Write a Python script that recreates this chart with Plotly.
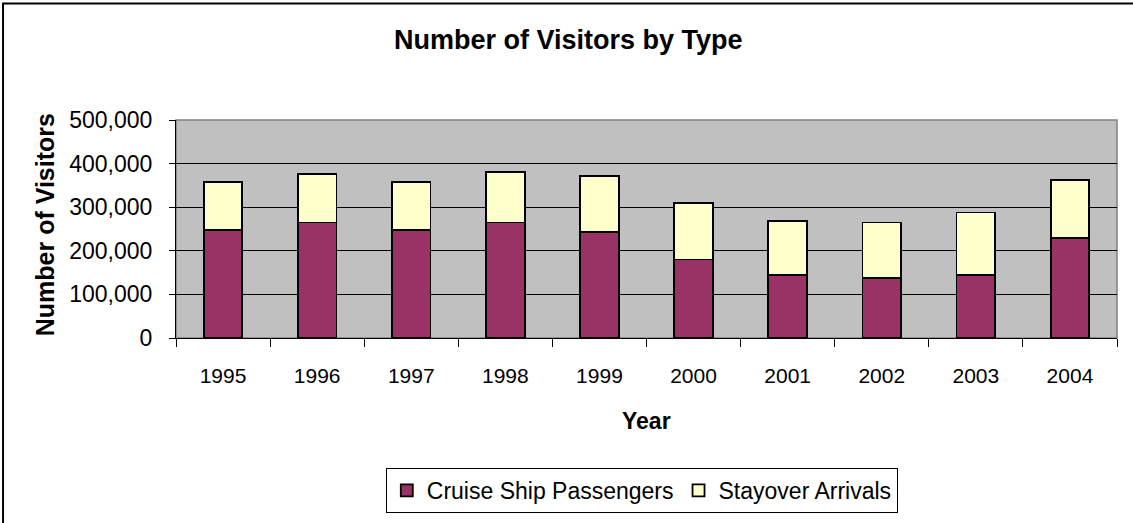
import plotly.graph_objects as go

years = ["1995", "1996", "1997", "1998", "1999", "2000", "2001", "2002", "2003", "2004"]
cruise = [247000, 265000, 247000, 265000, 243000, 180000, 145000, 137000, 145000, 230000]
stayover = [111000, 111000, 111000, 116000, 128000, 129000, 124000, 128000, 143000, 132000]

FONT = "Liberation Sans, Arial, sans-serif"

fig = go.Figure(
    data=[
        go.Bar(x=years, y=cruise, name="Cruise Ship Passengers", width=0.41,
               marker=dict(color="#993366", line=dict(color="black", width=1.8))),
        go.Bar(x=years, y=stayover, name="Stayover Arrivals", width=0.41,
               marker=dict(color="#FFFFCC", line=dict(color="black", width=1.8))),
    ],
    layout=go.Layout(
        barmode="stack",
        width=1133, height=523,
        margin=dict(l=176, r=16, t=120, b=184),
        paper_bgcolor="white",
        plot_bgcolor="#C0C0C0",
        font=dict(family=FONT, size=21, color="black"),
        xaxis=dict(
            type="category", showline=True, linecolor="black", linewidth=1,
            ticks="outside", tickson="boundaries", ticklen=8, tickcolor="black",
            ticklabelstandoff=19, tickfont=dict(size=21), showgrid=False,
        ),
        yaxis=dict(
            range=[0, 500000], autorange=False, dtick=100000, tickformat=",d",
            showline=True, linecolor="black", linewidth=1,
            ticks="outside", ticklen=6, tickcolor="black", ticklabelstandoff=12,
            tickfont=dict(size=23), showgrid=True, gridcolor="black", gridwidth=1,
            zeroline=False,
        ),
        showlegend=True,
        legend=dict(
            orientation="h", x=0.495, y=-0.589, xanchor="center", yanchor="top",
            bordercolor="black", borderwidth=1, bgcolor="white",
            font=dict(size=23), traceorder="normal",
        ),
        shapes=[
            # plot area border
            dict(type="rect", xref="paper", yref="paper", x0=0, y0=0, x1=1, y1=1,
                 line=dict(color="#808080", width=1.5), layer="below"),
            # chart frame, clipped at right and bottom like the original
            dict(type="rect", xref="paper", yref="paper", x0=-0.1838, y0=-1.0, x1=1.05, y1=1.534,
                 line=dict(color="black", width=2)),
        ],
        annotations=[
            dict(text="<b>Number of Visitors by Type</b>", xref="paper", yref="paper",
                 x=0.4166, y=1.365, xanchor="center", yanchor="middle",
                 showarrow=False, font=dict(size=27)),
            dict(text="<b>Year</b>", xref="paper", yref="paper",
                 x=0.5, y=-0.379, xanchor="center", yanchor="middle",
                 showarrow=False, font=dict(size=23)),
            dict(text="<b>Number of Visitors</b>", xref="paper", yref="paper",
                 x=-0.139, y=0.518, xanchor="center", yanchor="middle",
                 showarrow=False, textangle=-90, font=dict(size=25)),
        ],
    ),
)

fig.write_html("out.html", config={"displayModeBar": False},
               post_script="document.body.style.margin='0';")
